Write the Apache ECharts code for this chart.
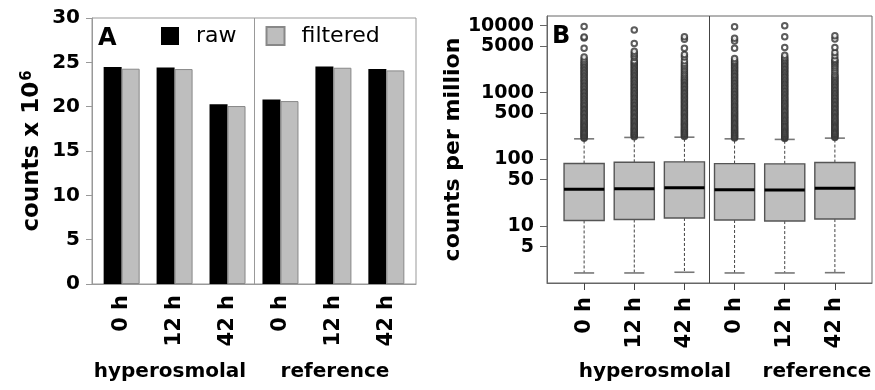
<!DOCTYPE html>
<html>
<head>
<meta charset="utf-8">
<script src="https://cdn.jsdelivr.net/npm/echarts@6/dist/echarts.min.js"></script>
<style>
  html, body { margin: 0; padding: 0; background: #fff; }
  #chart { width: 875px; height: 390px; }
</style>
</head>
<body>
<div id="chart"></div>
<script>
// Sample labels (time after treatment) and condition groups
const timepoints = ['0 h', '12 h', '42 h', '0 h', '12 h', '42 h'];
const groups = ['hyperosmolal', 'reference'];

// Panel A: library sizes, counts x 10^6
const rawCounts      = [24.47, 24.43, 20.26, 20.82, 24.54, 24.24];
const filteredCounts = [24.28, 24.24, 20.07, 20.63, 24.39, 24.09];

// Panel B: counts per million per sample
// [lower whisker, Q1, median, Q3, upper whisker]
const cpmBoxes = [
  [2.02, 12.3, 35.9, 87.1, 204],
  [2.02, 12.7, 36.7, 91.0, 214],
  [2.07, 13.4, 38.0, 92.4, 216],
  [2.02, 12.5, 35.5, 87.0, 204],
  [2.02, 12.05, 35.2, 86.3, 200],
  [2.04, 12.9, 37.1, 90.2, 209]
];
const cpmTicks = [5, 10, 50, 100, 500, 1000, 5000, 10000];

// Outlying genes above the upper whisker, per sample
const outliers0h = [209, 216, 224, 231, 240, 249, 258, 268, 279, 290, 302, 314, 327, 341, 356, 371, 388, 405, 423, 442, 462, 483, 505, 528, 553, 579, 606, 635, 665, 697, 731, 767, 805, 845, 887, 931, 978, 1027, 1079, 1133, 1190, 1250, 1313, 1380, 1450, 1524, 1602, 1684, 1770, 1861, 1957, 2058, 2164, 2276, 2394, 2518, 2649, 2787, 2932, 3160, 3420, 4610, 6550, 6800, 9770];
const outliers12h = [219, 227, 236, 244, 254, 265, 276, 287, 299, 312, 325, 339, 354, 370, 386, 404, 422, 441, 461, 482, 504, 528, 552, 578, 605, 633, 663, 694, 727, 761, 798, 836, 876, 918, 962, 1008, 1057, 1108, 1162, 1218, 1277, 1339, 1404, 1472, 1544, 1619, 1698, 1781, 1868, 1960, 2056, 2157, 2263, 2374, 2491, 2614, 2743, 2879, 2990, 3350, 3550, 3850, 4170, 5430, 8600];
const outliers42h = [221, 229, 238, 247, 257, 267, 278, 289, 301, 314, 327, 341, 356, 372, 388, 405, 423, 442, 462, 483, 505, 528, 552, 577, 604, 632, 661, 692, 724, 758, 794, 831, 870, 911, 954, 999, 1046, 1096, 1148, 1203, 1260, 1320, 1383, 1449, 1518, 1590, 1666, 1760, 1870, 1990, 2120, 2260, 2410, 2570, 2740, 2990, 3420, 3730, 4610, 6300, 6820];
const outliersRef0h = [210, 217, 225, 233, 242, 251, 261, 271, 282, 293, 305, 318, 331, 345, 360, 376, 392, 409, 427, 446, 466, 487, 509, 532, 556, 582, 609, 637, 667, 698, 731, 766, 802, 840, 880, 922, 966, 1012, 1061, 1112, 1166, 1222, 1281, 1343, 1408, 1477, 1549, 1624, 1703, 1786, 1873, 1965, 2061, 2162, 2268, 2379, 2496, 2619, 2748, 2880, 2990, 3240, 4610, 5890, 6510, 9620];
const outliersRef12h = [206, 213, 221, 229, 238, 247, 257, 267, 278, 289, 301, 313, 326, 340, 354, 369, 385, 402, 419, 437, 456, 476, 497, 519, 542, 566, 592, 619, 647, 677, 708, 741, 775, 811, 849, 889, 931, 975, 1021, 1070, 1121, 1175, 1231, 1290, 1352, 1417, 1486, 1558, 1633, 1712, 1795, 1882, 1974, 2070, 2171, 2277, 2388, 2505, 2628, 2757, 2892, 3034, 3183, 3350, 3630, 4730, 6820, 9980];
const outliersRef42h = [214, 222, 230, 239, 248, 258, 268, 279, 290, 302, 315, 328, 342, 357, 372, 388, 405, 423, 442, 462, 483, 505, 528, 552, 577, 604, 632, 662, 693, 726, 760, 796, 834, 874, 916, 960, 1006, 1054, 1105, 1159, 1215, 1274, 1336, 1401, 1469, 1541, 1616, 1695, 1778, 1870, 2010, 2160, 2330, 2510, 2680, 2850, 3000, 3160, 3550, 3980, 4730, 6310, 7080];
const outlierSets = [outliers0h, outliers12h, outliers42h, outliersRef0h, outliersRef12h, outliersRef42h];

const FONT = 'DejaVu Sans';
const boldLabel = { fontFamily: FONT, fontWeight: 'bold', fontSize: 20, color: '#000' };
const sampleIdx = timepoints.map((_, i) => i);

const chart = echarts.init(document.getElementById('chart'), null, { renderer: 'canvas' });

const barData = arr => arr.map((v, i) => [i, v]);
const boxData = cpmBoxes.map((b, i) => [i + 1].concat(b));
const outlierData = [];
outlierSets.forEach((set, i) => set.forEach(v => outlierData.push([i + 1, v])));

// Box, dashed whiskers, caps and median for each sample
function renderBox(params, api) {
  const x = api.value(0);
  const lo = api.value(1), q1 = api.value(2), med = api.value(3), q3 = api.value(4), hi = api.value(5);
  const pL = api.coord([x - 0.4, q1]), pR = api.coord([x + 0.4, q3]);
  const cL = api.coord([x - 0.2, lo])[0], cR = api.coord([x + 0.2, lo])[0];
  const cx = api.coord([x, med])[0];
  const yLo = api.coord([x, lo])[1], yQ1 = pL[1], yMed = api.coord([x, med])[1], yQ3 = pR[1], yHi = api.coord([x, hi])[1];
  const dash = { stroke: '#444', lineWidth: 1, lineDash: [3, 2] };
  const cap = { stroke: '#777', lineWidth: 1.6 };
  return {
    type: 'group',
    children: [
      { type: 'line', shape: { x1: cx, y1: yQ1, x2: cx, y2: yLo }, style: dash },
      { type: 'line', shape: { x1: cx, y1: yQ3, x2: cx, y2: yHi }, style: dash },
      { type: 'line', shape: { x1: cL, y1: yLo, x2: cR, y2: yLo }, style: cap },
      { type: 'line', shape: { x1: cL, y1: yHi, x2: cR, y2: yHi }, style: cap },
      { type: 'rect', shape: { x: pL[0], y: yQ3, width: pR[0] - pL[0], height: yQ1 - yQ3 },
        style: { fill: '#bebebe', stroke: '#555', lineWidth: 1.4 } },
      { type: 'line', shape: { x1: pL[0], y1: yMed, x2: pR[0], y2: yMed }, style: { stroke: '#000', lineWidth: 3 } }
    ]
  };
}

const groupLabel = (text, x) => ({
  type: 'text', x: x, y: 372,
  style: { text: text, font: 'bold 20px "DejaVu Sans"', fill: '#000', align: 'center', verticalAlign: 'middle' }
});

const option = {
  animation: false,
  backgroundColor: '#fff',
  title: [
    { text: 'A', left: 98, top: 27, padding: 0, textStyle: { fontFamily: FONT, fontWeight: 'bold', fontSize: 24, color: '#000' } },
    { text: 'B', left: 552, top: 25, padding: 0, textStyle: { fontFamily: FONT, fontWeight: 'bold', fontSize: 24, color: '#000' } }
  ],
  legend: {
    left: 161, top: 25, padding: 0,
    itemWidth: 18, itemHeight: 18, itemGap: 29,
    data: [{ name: 'raw', icon: 'rect' }, { name: 'filtered', icon: 'rect' }],
    textStyle: { fontFamily: FONT, fontSize: 22, color: '#000', padding: [0, 0, 0, 12] }
  },
  grid: [
    { left: 92, top: 18, width: 324, height: 266, show: true, borderColor: '#999', borderWidth: 1, backgroundColor: 'transparent' },
    { left: 547, top: 16, width: 325, height: 267, show: true, borderColor: '#666', borderWidth: 1, backgroundColor: 'transparent' }
  ],
  xAxis: [
    {
      gridIndex: 0, type: 'value', min: -0.56, max: 5.56,
      axisLine: { show: true, onZero: false, lineStyle: { color: '#999' } },
      axisTick: { show: false },
      splitLine: { show: false },
      axisLabel: Object.assign({}, boldLabel, { fontSize: 21, rotate: 90, margin: 11, customValues: sampleIdx,
        formatter: v => timepoints[Math.round(v)] })
    },
    {
      gridIndex: 1, type: 'value', min: 0.26, max: 6.74,
      axisLine: { show: true, onZero: false, lineStyle: { color: '#666' } },
      axisTick: { show: true, length: 7, lineStyle: { color: '#444' }, customValues: sampleIdx.map(i => i + 1) },
      splitLine: { show: false },
      axisLabel: Object.assign({}, boldLabel, { fontSize: 21, rotate: 90, margin: 14, customValues: sampleIdx.map(i => i + 1),
        formatter: v => timepoints[Math.round(v) - 1] })
    }
  ],
  yAxis: [
    {
      gridIndex: 0, type: 'value', min: 0, max: 30, interval: 5,
      name: '{n|counts x 10}{s|6}', nameLocation: 'middle', nameGap: 48,
      nameTextStyle: { fontFamily: FONT, fontWeight: 'bold', fontSize: 23, color: '#000',
        rich: { n: { fontFamily: FONT, fontWeight: 'bold', fontSize: 23, color: '#000' },
                s: { fontFamily: FONT, fontWeight: 'bold', fontSize: 15, color: '#000', verticalAlign: 'top', padding: [0, 0, 9, 1] } } },
      axisLine: { show: true, onZero: false, lineStyle: { color: '#999' } },
      axisTick: { show: true, length: 6, lineStyle: { color: '#999' } },
      splitLine: { show: false },
      axisLabel: Object.assign({}, boldLabel, { margin: 12 })
    },
    {
      gridIndex: 1, type: 'log', logBase: 10, min: 1.43, max: 13970,
      name: 'counts per million', nameLocation: 'middle', nameGap: 83,
      nameTextStyle: { fontFamily: FONT, fontWeight: 'bold', fontSize: 22, color: '#000' },
      axisLine: { show: true, onZero: false, lineStyle: { color: '#666' } },
      axisTick: { show: true, length: 7, lineStyle: { color: '#666' }, customValues: cpmTicks },
      splitLine: { show: false },
      axisLabel: Object.assign({}, boldLabel, { fontSize: 19, margin: 13, customValues: cpmTicks,
        formatter: v => String(Math.round(v)) })
    }
  ],
  series: [
    {
      name: 'raw', type: 'bar', xAxisIndex: 0, yAxisIndex: 0,
      data: barData(rawCounts), barWidth: 18, barGap: '0%',
      itemStyle: { color: '#000' }
    },
    {
      name: 'filtered', type: 'bar', xAxisIndex: 0, yAxisIndex: 0,
      data: barData(filteredCounts), barWidth: 18, barGap: '0%',
      itemStyle: { color: '#bebebe', borderColor: '#888', borderWidth: 1 }
    },
    {
      // separator between the two conditions in panel A
      name: 'dividerA', type: 'scatter', xAxisIndex: 0, yAxisIndex: 0, data: [],
      markLine: { silent: true, symbol: 'none', label: { show: false },
        lineStyle: { color: '#999', type: 'solid', width: 1 }, data: [{ xAxis: 2.5 }] }
    },
    {
      name: 'cpm', type: 'custom', xAxisIndex: 1, yAxisIndex: 1,
      data: boxData, encode: { x: 0, y: [1, 2, 3, 4, 5] },
      renderItem: renderBox,
      markLine: { silent: true, symbol: 'none', label: { show: false },
        lineStyle: { color: '#444', type: 'solid', width: 1 }, data: [{ xAxis: 3.5 }] }
    },
    {
      name: 'outliers', type: 'scatter', xAxisIndex: 1, yAxisIndex: 1,
      data: outlierData, symbol: 'emptyCircle', symbolSize: 5.5,
      itemStyle: { color: '#333', borderColor: '#333', borderWidth: 0.9 }
    }
  ],
  graphic: [
    groupLabel(groups[0], 170),
    groupLabel(groups[1], 335),
    groupLabel(groups[0], 655),
    groupLabel(groups[1], 817)
  ]
};

chart.setOption(option);
</script>
</body>
</html>
